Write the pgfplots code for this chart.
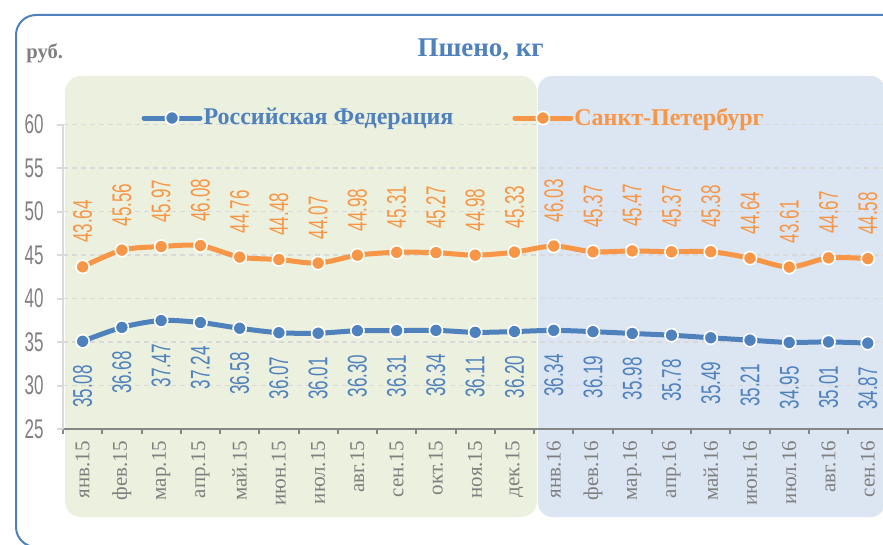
\documentclass[border=0pt]{standalone}
\usepackage{fontspec}
\setmainfont{Liberation Serif}
\newfontfamily\condfont[FakeStretch=0.63]{Liberation Sans}
\usepackage{pgfplots}
\pgfplotsset{compat=1.18}
\usepackage{pgfplotstable}
\definecolor{rfblue}{HTML}{4F81BD}
\definecolor{spborange}{HTML}{F79646}
\definecolor{greenbg}{HTML}{EBF1DE}
\definecolor{bluebg}{HTML}{DCE6F2}
\definecolor{gridgrey}{HTML}{D9D9D9}
\definecolor{axisgrey}{HTML}{868686}
\definecolor{txtgrey}{HTML}{7F7F7F}

\pgfplotstableread{
x y lab
0 35.08 35.08
1 36.68 36.68
2 37.47 37.47
3 37.24 37.24
4 36.58 36.58
5 36.07 36.07
6 36.01 36.01
7 36.30 36.30
8 36.31 36.31
9 36.34 36.34
10 36.11 36.11
11 36.20 36.20
12 36.34 36.34
13 36.19 36.19
14 35.98 35.98
15 35.78 35.78
16 35.49 35.49
17 35.21 35.21
18 34.95 34.95
19 35.01 35.01
20 34.87 34.87
}\rftable

\pgfplotstableread{
x y lab
0 43.64 43.64
1 45.56 45.56
2 45.97 45.97
3 46.08 46.08
4 44.76 44.76
5 44.48 44.48
6 44.07 44.07
7 44.98 44.98
8 45.31 45.31
9 45.27 45.27
10 44.98 44.98
11 45.33 45.33
12 46.03 46.03
13 45.37 45.37
14 45.47 45.47
15 45.37 45.37
16 45.38 45.38
17 44.64 44.64
18 43.61 43.61
19 44.67 44.67
20 44.58 44.58
}\spbtable

\begin{document}
\begin{tikzpicture}
\useasboundingbox (0,0) rectangle (441.5pt,-272.5pt);
\clip (0,0) rectangle (441.5pt,-272.5pt);
\begin{scope}[x=0.5pt,y=-0.5pt]
\fill[greenbg, rounded corners=8pt] (65,76) rectangle (537,517);
\fill[bluebg, rounded corners=7pt] (538,76) rectangle (885,517);
\draw[rfblue, line width=1pt, rounded corners=10pt] (16,15) rectangle (910,547);
\node[anchor=west, font=\bfseries\fontsize{10.3}{12}\selectfont, text=txtgrey, inner sep=0pt] at (26,53) {руб.};
\end{scope}
\begin{axis}[
 at={(31.5pt,-214.5pt)}, anchor=south west,
 scale only axis, width=412.2pt, height=152.25pt,
 xmin=-0.5, xmax=20.5, ymin=25, ymax=60,
 clip=false,
 axis x line=bottom, axis y line=left,
 axis line style={-},
 x axis line style={draw=axisgrey, line width=1pt},
 y axis line style={draw=gridgrey, line width=1pt},
 ytick={25,30,...,60}, yticklabels={25,30,35,40,45,50,55,60},
 xtick={0,...,20},
 xticklabels={янв.15, фев.15, мар.15, апр.15, май.15, июн.15, июл.15, авг.15, сен.15, окт.15, ноя.15, дек.15, янв.16, фев.16, мар.16, апр.16, май.16, июн.16, июл.16, авг.16, сен.16},
 minor xtick={-0.5,0.5,...,20.5},
 tick align=outside,
 major tick length=3pt, minor tick length=2.5pt,
 major x tick style={draw=none},
 minor x tick style={draw=axisgrey, line width=1pt},
 ytick style={draw=gridgrey, line width=1pt},
 ymajorgrids, grid style={draw=gridgrey, line width=0.8pt, dash pattern=on 2.5pt off 2pt},
 yticklabel style={xshift=-6.5pt, font=\condfont\fontsize{13.5}{14}\selectfont, text=txtgrey, inner sep=0pt},
 xticklabel style={rotate=90, font=\fontsize{10.5}{12}\selectfont, text=txtgrey, anchor=east, inner sep=0pt, outer xsep=3pt},
 title={Пшено, кг},
 title style={font=\bfseries\fontsize{13.5}{16}\selectfont, text=rfblue, at={(0.5066,1.205)}, anchor=center, inner sep=0pt},
 legend columns=2,
 legend cell align=left,
 legend style={at={(0.0948,1.0213)}, anchor=west, draw=none, fill=none, inner sep=0pt,
   font=\bfseries\fontsize{12}{14}\selectfont,
   nodes={inner xsep=0.5pt, inner ysep=1pt},
   /tikz/every even column/.append style={column sep=29pt}},
 legend image code/.code={
   \draw[#1, line cap=round, mark repeat=2, mark phase=2] plot coordinates {(0pt,0pt) (14pt,0pt) (28pt,0pt)};
 },
]
\addplot[rfblue, line width=2.5pt, smooth, tension=0.5, mark=*, mark size=3.3pt,
  mark options={fill=rfblue, draw=white, line width=0.8pt},
  nodes near coords, point meta=explicit symbolic,
  nodes near coords style={font=\condfont\fontsize{13.5}{14}\selectfont, text=rfblue, rotate=90, anchor=east, inner sep=0pt, outer xsep=12pt}]
  table[x=x, y=y, meta=lab] {\rftable};
\addlegendentry{\textcolor{rfblue}{Российская Федерация}}
\addplot[spborange, line width=2.5pt, smooth, tension=0.5, mark=*, mark size=3.3pt,
  mark options={fill=spborange, draw=white, line width=0.8pt},
  nodes near coords, point meta=explicit symbolic,
  nodes near coords style={font=\condfont\fontsize{13.5}{14}\selectfont, text=spborange, rotate=90, anchor=west, inner sep=0pt, outer xsep=12pt}]
  table[x=x, y=y, meta=lab] {\spbtable};
\addlegendentry{\textcolor{spborange}{Санкт-Петербург}}
\end{axis}
\end{tikzpicture}
\end{document}
